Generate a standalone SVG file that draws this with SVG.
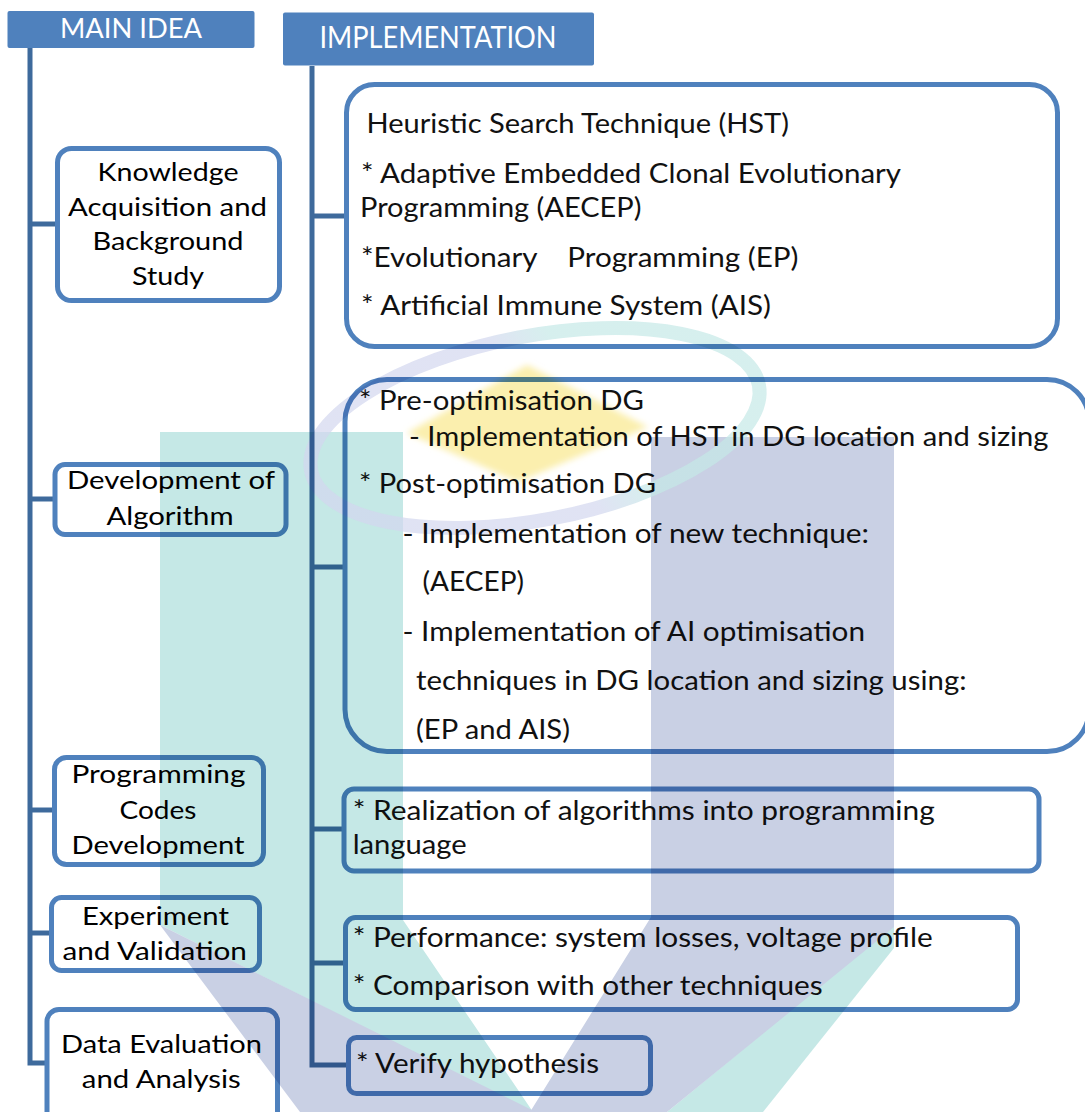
<svg xmlns="http://www.w3.org/2000/svg" width="1085" height="1112" viewBox="0 0 1085 1112">
<defs>
<style>
.hdr{fill:#4F81BD;}
.ht{font-family:Lato,"Open Sans",sans-serif;fill:#fff;text-anchor:middle;}
.box{fill:none;stroke:#4F81BD;stroke-width:5;}
.t{font-family:Lato,"Open Sans",sans-serif;font-size:25px;fill:#000;text-anchor:middle;}
.r{font-family:Lato,"Open Sans",sans-serif;font-size:26px;fill:#111;}
.wire{stroke:#3E6A9C;stroke-width:5;fill:none;}
</style>
<linearGradient id="ring" gradientUnits="userSpaceOnUse" x1="330" y1="520" x2="760" y2="340">
<stop offset="0" stop-color="#D2D6EE"/><stop offset="0.5" stop-color="#D2D6EE"/><stop offset="0.62" stop-color="#C4E8E6"/><stop offset="1" stop-color="#C4E8E6"/>
</linearGradient>
<filter id="soft" x="-20%" y="-20%" width="140%" height="140%"><feGaussianBlur stdDeviation="3"/></filter>
</defs>
<rect x="0" y="0" width="1085" height="1112" fill="#fff"/>

<g id="connectors">
<path class="wire" d="M30,48 V1063 H47"/>
<path class="wire" d="M30,224 H57"/>
<path class="wire" d="M30,499 H55"/>
<path class="wire" d="M30,810 H54"/>
<path class="wire" d="M30,933 H51"/>
<path class="wire" d="M312,66 V1065 H348"/>
<path class="wire" d="M312,216 H346"/>
<path class="wire" d="M312,567 H345"/>
<path class="wire" d="M312,829 H344"/>
<path class="wire" d="M312,963 H345"/>
</g>

<g id="main-idea">
<rect class="hdr" x="7.5" y="11" width="247" height="37" rx="2"/>
<text class="ht" x="131" y="37.5" font-size="27" textLength="142" lengthAdjust="spacingAndGlyphs">MAIN IDEA</text>
</g>
<g id="implementation">
<rect class="hdr" x="283" y="12.5" width="311" height="53" rx="2"/>
<text class="ht" x="438" y="48.3" font-size="30" textLength="237" lengthAdjust="spacingAndGlyphs">IMPLEMENTATION</text>
</g>

<g id="knowledge">
<rect class="box" x="57.5" y="148.5" width="222" height="152" rx="14"/>
<text class="t" x="168" y="181" textLength="141" lengthAdjust="spacingAndGlyphs">Knowledge</text>
<text class="t" x="167.5" y="215.7" textLength="199" lengthAdjust="spacingAndGlyphs">Acquisition and</text>
<text class="t" x="168" y="250" textLength="151" lengthAdjust="spacingAndGlyphs">Background</text>
<text class="t" x="168" y="285" textLength="72" lengthAdjust="spacingAndGlyphs">Study</text>
</g>
<g id="development">
<rect class="box" x="55" y="464.5" width="231" height="70" rx="10"/>
<text class="t" x="171" y="489.3" textLength="208" lengthAdjust="spacingAndGlyphs">Development of</text>
<text class="t" x="170" y="525" textLength="127" lengthAdjust="spacingAndGlyphs">Algorithm</text>
</g>
<g id="programming">
<rect class="box" x="54.5" y="757.5" width="209" height="107" rx="12"/>
<text class="t" x="158.5" y="783" textLength="174" lengthAdjust="spacingAndGlyphs">Programming</text>
<text class="t" x="158" y="819" textLength="77" lengthAdjust="spacingAndGlyphs">Codes</text>
<text class="t" x="158" y="854.3" textLength="173" lengthAdjust="spacingAndGlyphs">Development</text>
</g>
<g id="experiment">
<rect class="box" x="51.5" y="897.5" width="208" height="73" rx="10"/>
<text class="t" x="155.4" y="925" textLength="147" lengthAdjust="spacingAndGlyphs">Experiment</text>
<text class="t" x="154.7" y="960" textLength="184.5" lengthAdjust="spacingAndGlyphs">and Validation</text>
</g>
<g id="data">
<rect class="box" x="47" y="1009.5" width="230.5" height="115" rx="12"/>
<text class="t" x="161.5" y="1053" textLength="201" lengthAdjust="spacingAndGlyphs">Data Evaluation</text>
<text class="t" x="161.3" y="1087.7" textLength="159" lengthAdjust="spacingAndGlyphs">and Analysis</text>
</g>

<g id="hst">
<rect class="box" x="346.5" y="84.5" width="711" height="262" rx="28"/>
<text class="r" x="366.5" y="133" textLength="422.5" lengthAdjust="spacingAndGlyphs">Heuristic Search Technique (HST)</text>
<text class="r" x="361" y="183" textLength="540" lengthAdjust="spacingAndGlyphs">* Adaptive Embedded Clonal Evolutionary</text>
<text class="r" x="360" y="217" textLength="281.5" lengthAdjust="spacingAndGlyphs">Programming (AECEP)</text>
<text class="r" x="361" y="267" textLength="437.5" lengthAdjust="spacingAndGlyphs" xml:space="preserve">*Evolutionary    Programming (EP)</text>
<text class="r" x="361" y="315" textLength="410" lengthAdjust="spacingAndGlyphs">* Artificial Immune System (AIS)</text>
</g>
<g id="dg">
<rect class="box" x="345" y="379.5" width="744" height="372" rx="42"/>
<text class="r" x="359" y="410" textLength="285" lengthAdjust="spacingAndGlyphs">* Pre-optimisation DG</text>
<text class="r" x="409" y="446" textLength="639.5" lengthAdjust="spacingAndGlyphs">- Implementation of HST in DG location and sizing</text>
<text class="r" x="359" y="493" textLength="297" lengthAdjust="spacingAndGlyphs">* Post-optimisation DG</text>
<text class="r" x="402.5" y="542.7" textLength="466.5" lengthAdjust="spacingAndGlyphs">- Implementation of new technique:</text>
<text class="r" x="422.5" y="591" textLength="101.5" lengthAdjust="spacingAndGlyphs">(AECEP)</text>
<text class="r" x="402.5" y="641" textLength="462.5" lengthAdjust="spacingAndGlyphs">- Implementation of AI optimisation</text>
<text class="r" x="416" y="690" textLength="550.5" lengthAdjust="spacingAndGlyphs">techniques in DG location and sizing using:</text>
<text class="r" x="416" y="739" textLength="154" lengthAdjust="spacingAndGlyphs">(EP and AIS)</text>
</g>
<g id="realization">
<rect class="box" x="344" y="789" width="695" height="82" rx="10"/>
<text class="r" x="352.7" y="820" textLength="582" lengthAdjust="spacingAndGlyphs">* Realization of algorithms into programming</text>
<text class="r" x="352.7" y="854" textLength="114" lengthAdjust="spacingAndGlyphs">language</text>
</g>
<g id="performance">
<rect class="box" x="345.5" y="917.5" width="672" height="92" rx="10"/>
<text class="r" x="352.7" y="946.7" textLength="580" lengthAdjust="spacingAndGlyphs">* Performance: system losses, voltage profile</text>
<text class="r" x="352.7" y="995" textLength="470" lengthAdjust="spacingAndGlyphs">* Comparison with other techniques</text>
</g>
<g id="verify">
<rect class="box" x="348.5" y="1037.5" width="302" height="56" rx="8"/>
<text class="r" x="356" y="1073" textLength="243" lengthAdjust="spacingAndGlyphs">* Verify hypothesis</text>
</g>

<g id="watermark" style="mix-blend-mode:multiply">
<polygon points="160,432 403,432 403,920 533,1112 160,925" fill="#C5E8E6"/>
<polygon points="894,925 894,948 763,1112 667,1112" fill="#C5E8E6"/>
<polygon points="651,437 894,437 894,927 667,1112 530,1112 651,917" fill="#C9D0E4"/>
<polygon points="160,925 536,1112 300,1112" fill="#C9D0E4"/>
<polygon points="527,365 648,427 518,482 407,433" fill="#FBEFAE" filter="url(#soft)"/>
<ellipse cx="535" cy="428" rx="228" ry="92" transform="rotate(-10.8 535 428)" fill="none" stroke="url(#ring)" stroke-width="14" opacity="0.7"/>
</g>
</svg>
